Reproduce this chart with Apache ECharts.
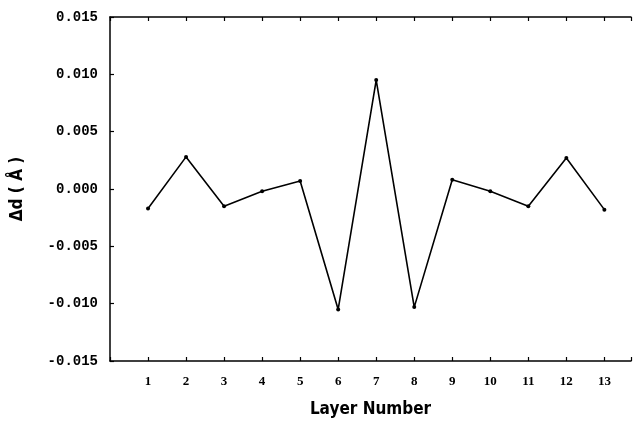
<!DOCTYPE html>
<html>
<head>
<meta charset="utf-8">
<script src="https://cdn.jsdelivr.net/npm/echarts@6/dist/echarts.min.js"></script>
<style>
html,body{margin:0;padding:0;background:#fff;}
#chart{width:634px;height:428px;}
</style>
</head>
<body>
<div id="chart"></div>
<script>
const layers = [1,2,3,4,5,6,7,8,9,10,11,12,13];
const deltaD = [-0.0017, 0.0028, -0.0015, -0.0002, 0.0007, -0.0105, 0.0095, -0.0103, 0.0008, -0.0002, -0.0015, 0.0027, -0.0018];
const yTicks = [-0.015, -0.010, -0.005, 0.000, 0.005, 0.010, 0.015];

const chart = echarts.init(document.getElementById('chart'));
const labelFont = 'Liberation Mono';
const tickFmt = v => (layers.indexOf(v) >= 0 ? String(v) : '');
chart.setOption({
  animation: false,
  backgroundColor: '#fff',
  grid: { left: 110, right: 0, top: 17, bottom: 67 },
  xAxis: [{
    type: 'value', min: 0, max: 13.7, interval: 1,
    name: 'Layer Number', nameLocation: 'middle', nameGap: 40,
    nameTextStyle: { fontFamily: '"Liberation Sans Narrow","DejaVu Sans Condensed",sans-serif', fontWeight: 'bold', fontSize: 17, color: '#000' },
    axisLine: { show: true, onZero: false, lineStyle: { color: '#000', width: 1.5 } },
    axisTick: { show: true, inside: true, length: 4, lineStyle: { color: '#000', width: 1.2 } },
    axisLabel: {
      margin: 14, color: '#000', fontFamily: '"Liberation Serif",serif', fontWeight: 'bold', fontSize: 13,
      formatter: tickFmt
    },
    splitLine: { show: false }
  }, {
    type: 'value', min: 0, max: 13.7, interval: 1, position: 'top',
    axisLine: { show: true, onZero: false, lineStyle: { color: '#000', width: 1.5 } },
    axisTick: { show: true, inside: true, length: 4, lineStyle: { color: '#000', width: 1.2 } },
    axisLabel: { show: false },
    splitLine: { show: false }
  }],
  yAxis: {
    type: 'value', min: yTicks[0], max: yTicks[yTicks.length - 1], interval: 0.005,
    name: 'Δd ( Å )', nameLocation: 'middle', nameGap: 84, nameRotate: 90,
    nameTextStyle: { fontFamily: '"Liberation Sans Narrow","DejaVu Sans Condensed",sans-serif', fontWeight: 'bold', fontSize: 17, color: '#000' },
    axisLine: { show: true, onZero: false, lineStyle: { color: '#000', width: 1.5 } },
    axisTick: { show: true, inside: true, length: 4, lineStyle: { color: '#000', width: 1.2 } },
    axisLabel: {
      margin: 12, color: '#000', fontFamily: labelFont, fontWeight: 'bold', fontSize: 14,
      formatter: v => v.toFixed(3)
    },
    splitLine: { show: false }
  },
  series: [{
    type: 'line',
    data: layers.map((l, i) => [l, deltaD[i]]),
    symbol: 'circle', symbolSize: 4,
    itemStyle: { color: '#000' },
    lineStyle: { color: '#000', width: 1.6 }
  }]
});
</script>
</body>
</html>
